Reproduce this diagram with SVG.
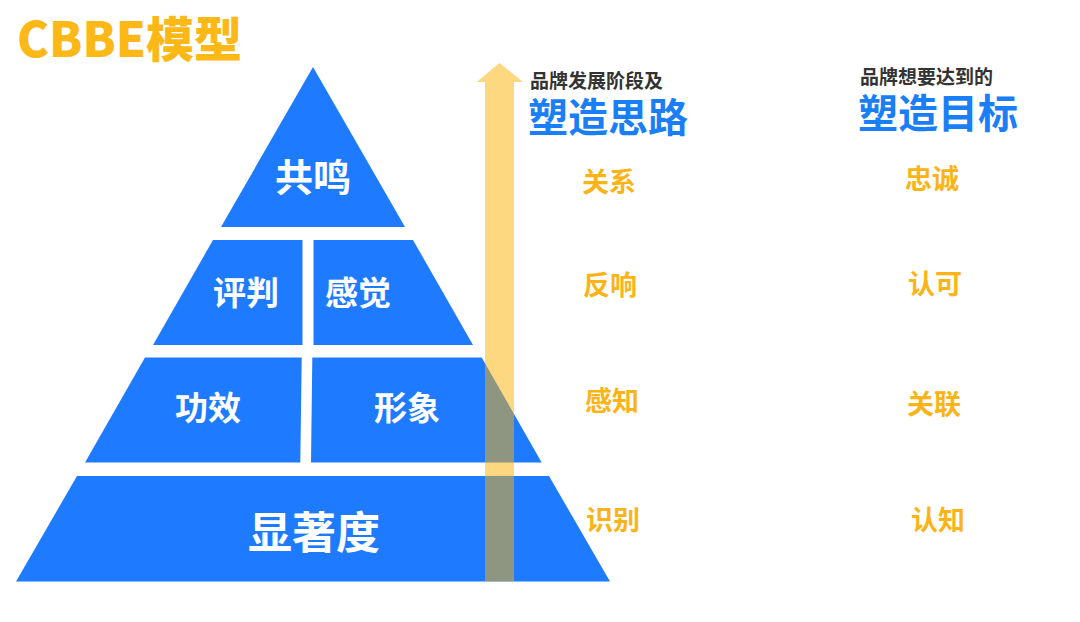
<svg xmlns="http://www.w3.org/2000/svg" width="1080" height="622" viewBox="0 0 1080 622">
<style>
.tier{fill:#1E7BFF}
.pl{font-family:"Noto Sans CJK SC","Noto Sans",sans-serif;font-weight:700;fill:#FFFFFF;text-anchor:middle;dominant-baseline:central}
.ol{font-family:"Noto Sans CJK SC","Noto Sans",sans-serif;font-weight:700;fill:#FBB417;font-size:27px;text-anchor:middle;dominant-baseline:central}
.sub{font-family:"Noto Sans CJK SC","Noto Sans",sans-serif;font-weight:700;fill:#333333;font-size:19px;dominant-baseline:central}
.head{font-family:"Noto Sans CJK SC","Noto Sans",sans-serif;font-weight:700;fill:#1A7EF7;font-size:40px;dominant-baseline:central}
</style>
<rect width="1080" height="622" fill="#FFFFFF"/>
<g id="title">
<text x="17" y="36" font-family="Noto Sans CJK SC, Noto Sans, sans-serif" font-weight="900" font-size="48" fill="#FBB817" dominant-baseline="central">CBBE模型</text>
</g>
<g id="tier-resonance">
<polygon class="tier" points="313,67 405,227 221,227"/>
<text class="pl" x="313" y="174" font-size="38">共鸣</text>
</g>
<g id="tier-judgment">
<polygon class="tier" points="213,240 302.5,240 302.5,345 153,345"/>
<text class="pl" x="246" y="291" font-size="33">评判</text>
</g>
<g id="tier-feelings">
<polygon class="tier" points="313.5,240 413,240 473,345 313.5,345"/>
<text class="pl" x="358" y="291" font-size="33">感觉</text>
</g>
<g id="tier-performance">
<polygon class="tier" points="145,357.5 301.7,357.5 300.3,462.5 85,462.5"/>
<text class="pl" x="208" y="406" font-size="33">功效</text>
</g>
<g id="tier-imagery">
<polygon class="tier" points="312.3,357.5 481.7,357.5 541.7,462.5 311,462.5"/>
<text class="pl" x="407" y="406" font-size="33">形象</text>
</g>
<g id="tier-salience">
<polygon class="tier" points="77,476 549,476 610,581.5 16,581.5"/>
<text class="pl" x="314" y="530" font-size="44">显著度</text>
</g>
<g id="connectors">
<polygon points="499.5,63 523,82 514,82 514,581.5 485,581.5 485,82 476.5,82" fill="#FDB203" fill-opacity="0.5"/>
</g>
<g id="header-left">
<text class="sub" x="530" y="79">品牌发展阶段及</text>
<text class="head" x="528" y="115">塑造思路</text>
</g>
<g id="header-right">
<text class="sub" x="860" y="75">品牌想要达到的</text>
<text class="head" x="858" y="111">塑造目标</text>
</g>
<g id="labels-left">
<text class="ol" x="609" y="180">关系</text>
<text class="ol" x="610" y="283">反响</text>
<text class="ol" x="612" y="399">感知</text>
<text class="ol" x="613" y="518">识别</text>
</g>
<g id="labels-right">
<text class="ol" x="932" y="177">忠诚</text>
<text class="ol" x="935" y="282">认可</text>
<text class="ol" x="934" y="402">关联</text>
<text class="ol" x="938" y="518">认知</text>
</g>
</svg>
